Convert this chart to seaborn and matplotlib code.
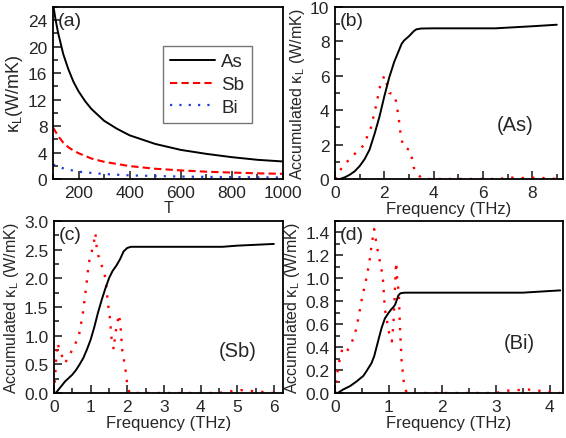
import numpy as np
import pandas as pd
import matplotlib
matplotlib.use('Agg')
import matplotlib.pyplot as plt
from matplotlib.ticker import MultipleLocator, FormatStrFormatter
import seaborn as sns

# (a) kappa_L vs T
T_as = [100, 110, 120, 140, 160, 180, 200, 225, 250, 300, 350, 400, 500, 600, 700, 800, 900, 1000]
k_as = [26.5, 24.1, 22.1, 18.9, 16.6, 14.7, 13.25, 11.8, 10.6, 8.8, 7.6, 6.6, 5.3, 4.4, 3.8, 3.3, 2.9, 2.65]
T_sb = [100, 120, 140, 160, 180, 200, 250, 300, 400, 500, 600, 700, 800, 900, 1000]
k_sb = [7.8, 6.5, 5.5, 4.8, 4.3, 3.9, 3.1, 2.6, 1.95, 1.55, 1.3, 1.1, 0.97, 0.86, 0.78]
T_bi = [100, 120, 150, 200, 300, 400, 500, 600, 700, 800, 900, 1000]
k_bi = [2.2, 1.85, 1.5, 1.1, 0.75, 0.55, 0.45, 0.37, 0.32, 0.28, 0.25, 0.22]

# (b) As accumulated / spectral
f_as_acc = [0.2, 0.4, 0.6, 0.8, 1.0, 1.2, 1.4, 1.6, 1.8, 2.0, 2.2, 2.4, 2.6, 2.7, 2.8, 3.0, 3.2, 3.3, 3.5, 4.0, 6.5, 7.0, 8.0, 9.0]
as_acc = [0.0, 0.1, 0.25, 0.45, 0.75, 1.15, 1.7, 2.6, 3.6, 4.8, 5.9, 6.8, 7.5, 7.85, 8.05, 8.3, 8.6, 8.7, 8.75, 8.76, 8.76, 8.8, 8.88, 8.97]
f_as_sp = [0.0, 0.2, 0.4, 0.8, 1.15, 1.45, 1.64, 1.83, 2.0, 2.13, 2.2, 2.37, 2.48, 2.58, 2.67, 2.78, 2.94, 3.06, 3.19, 3.39, 3.6, 6.7, 7.0, 7.5, 8.0, 8.5, 9.0]
as_sp = [0.0, 0.5, 0.87, 1.46, 1.94, 2.95, 4.1, 5.4, 6.0, 5.4, 5.0, 4.95, 4.5, 3.6, 2.5, 1.85, 1.75, 1.65, 0.68, 0.2, 0.0, 0.0, 0.1, 0.05, 0.08, 0.05, 0.0]

# (c) Sb
f_sb_acc = [0.05, 0.2, 0.3, 0.4, 0.5, 0.6, 0.7, 0.8, 0.9, 1.0, 1.1, 1.2, 1.3, 1.4, 1.5, 1.6, 1.7, 1.8, 1.9, 2.0, 2.1, 4.6, 5.0, 6.0]
sb_acc = [0.0, 0.12, 0.2, 0.26, 0.32, 0.4, 0.5, 0.61, 0.76, 0.93, 1.15, 1.4, 1.62, 1.82, 2.0, 2.13, 2.22, 2.33, 2.47, 2.53, 2.55, 2.55, 2.57, 2.6]
f_sb_sp = [0.0, 0.02, 0.06, 0.1, 0.15, 0.3, 0.43, 0.56, 0.68, 0.79, 0.88, 0.95, 1.08, 1.13, 1.17, 1.23, 1.29, 1.35,
           1.41, 1.47, 1.52, 1.57, 1.63, 1.67, 1.72, 1.77, 1.81, 1.86, 1.95, 2.0, 2.06, 4.5, 4.7, 5.1, 5.5, 6.0]
sb_sp = [0.0, 0.17, 0.6, 0.87, 0.75, 0.52, 0.67, 0.83, 1.0, 1.4, 1.86, 2.27, 2.59, 2.79, 2.5, 2.35, 2.24, 2.15,
         1.98, 1.57, 1.34, 0.96, 0.76, 1.02, 1.19, 1.37, 1.22, 0.76, 0.41, 0.15, 0.0, 0.0, 0.02, 0.05, 0.03, 0.0]

# (d) Bi
f_bi_acc = [0.05, 0.15, 0.28, 0.4, 0.53, 0.6, 0.68, 0.73, 0.78, 0.83, 0.87, 0.93, 1.0, 1.05, 1.09, 1.12, 1.15, 1.18, 1.22, 1.3, 3.5, 4.2]
bi_acc = [0.0, 0.03, 0.06, 0.1, 0.15, 0.2, 0.26, 0.32, 0.41, 0.5, 0.57, 0.65, 0.70, 0.73, 0.75, 0.77, 0.81, 0.85, 0.87, 0.875, 0.875, 0.895]
f_bi_sp = [0.0, 0.02, 0.06, 0.1, 0.14, 0.22, 0.31, 0.37, 0.43, 0.5, 0.58, 0.64, 0.68, 0.73, 0.78, 0.84, 0.89, 0.93,
           0.98, 1.01, 1.06, 1.09, 1.12, 1.14, 1.16, 1.19, 1.21, 1.24, 1.29, 1.34, 3.0, 3.2, 3.6, 4.0, 4.2]
bi_sp = [0.0, 0.09, 0.23, 0.32, 0.39, 0.36, 0.44, 0.51, 0.64, 0.82, 0.99, 1.14, 1.28, 1.43, 1.28, 1.14, 1.02, 0.73,
         0.6, 0.52, 0.45, 0.61, 0.93, 1.14, 0.99, 0.87, 0.58, 0.29, 0.06, 0.0, 0.0, 0.02, 0.03, 0.01, 0.0]

sns.set_style('ticks')
plt.rcParams['font.family'] = ['Liberation Sans', 'DejaVu Sans']
plt.rcParams['mathtext.fontset'] = 'custom'
plt.rcParams['mathtext.rm'] = 'Liberation Sans'
plt.rcParams['mathtext.it'] = 'Liberation Sans:italic'

W, H = 566, 439
fig = plt.figure(figsize=(W / 100, H / 100), dpi=100)


def box(l, t, r, b):
    return [l / W, 1 - b / H, (r - l) / W, (b - t) / H]


ax_a = fig.add_axes(box(53, 8, 283, 180))
ax_b = fig.add_axes(box(335, 8, 563, 180))
ax_c = fig.add_axes(box(54, 222, 283, 394))
ax_d = fig.add_axes(box(335, 222, 563, 394))

red_dot = (0, (1, 3.4))

sns.lineplot(x=T_as, y=k_as, ax=ax_a, color='black', lw=1.4, label='As')
sns.lineplot(x=T_sb, y=k_sb, ax=ax_a, color='red', lw=1.5, linestyle=(0, (3.5, 2)), label='Sb')
sns.lineplot(x=T_bi, y=k_bi, ax=ax_a, color='#1f3fd8', lw=1.6, linestyle=(0, (1, 3.2)), label='Bi')
ax_a.set_xlim(100, 1000)
ax_a.set_ylim(0, 26)
ax_a.xaxis.set_major_locator(MultipleLocator(200))
ax_a.xaxis.set_minor_locator(MultipleLocator(100))
ax_a.yaxis.set_major_locator(MultipleLocator(4))
ax_a.yaxis.set_minor_locator(MultipleLocator(2))
ax_a.set_xlabel('T', fontsize=11.5, labelpad=0)
ax_a.set_ylabel(r'$\mathregular{\kappa_L}$(W/mK)', fontsize=13, labelpad=2)
leg = ax_a.legend(loc='upper left', bbox_to_anchor=(0.478, 0.775), fontsize=13.5, frameon=True,
                  fancybox=False, edgecolor='#555555', handlelength=2.4, labelspacing=0.3,
                  borderpad=0.4, handletextpad=0.3, borderaxespad=0)
leg.get_frame().set_linewidth(1.0)

panels = [
    (ax_b, f_as_acc, as_acc, f_as_sp, as_sp, (0, 9.25), (0, 10), 2, 1, 2, 1, '(b)', '(As)', (0.71, 0.26)),
    (ax_c, f_sb_acc, sb_acc, f_sb_sp, sb_sp, (0, 6.25), (0, 3.0), 1, 0.5, 0.5, 0.25, '(c)', '(Sb)', (0.72, 0.19)),
    (ax_d, f_bi_acc, bi_acc, f_bi_sp, bi_sp, (0, 4.25), (0, 1.5), 1, 0.5, 0.2, 0.1, '(d)', '(Bi)', (0.74, 0.24)),
]
for ax, fa, ya, fs, ys, xl, yl, xmaj, xmin, ymaj, ymin, tag, name, pos in panels:
    sns.lineplot(x=fs, y=ys, ax=ax, color='red', lw=1.7, linestyle=red_dot)
    sns.lineplot(x=fa, y=ya, ax=ax, color='black', lw=1.4)
    ax.set_xlim(*xl)
    ax.set_ylim(*yl)
    ax.xaxis.set_major_locator(MultipleLocator(xmaj))
    ax.xaxis.set_minor_locator(MultipleLocator(xmin))
    ax.yaxis.set_major_locator(MultipleLocator(ymaj))
    ax.yaxis.set_minor_locator(MultipleLocator(ymin))
    ax.set_xlabel('Frequency (THz)', fontsize=12, labelpad=1)
    ax.set_ylabel(r'Accumulated $\mathregular{\kappa_L}$ (W/mK)', fontsize=11.5, labelpad=2)
    ax.text(pos[0], pos[1], name, transform=ax.transAxes, fontsize=14.5, ha='left', va='bottom')
    ax.text(0.02, 0.97, tag, transform=ax.transAxes, fontsize=14, ha='left', va='top')

ax_c.yaxis.set_major_formatter(FormatStrFormatter('%.1f'))
ax_d.yaxis.set_major_formatter(FormatStrFormatter('%.1f'))

ax_a.text(0.02, 0.97, '(a)', transform=ax_a.transAxes, fontsize=14, ha='left', va='top')

for ax in [ax_a, ax_b, ax_c, ax_d]:
    ax.tick_params(which='major', direction='in', length=6, width=1.2, labelsize=12.5, pad=4)
    ax.tick_params(which='minor', direction='in', length=3.5, width=1.2)
    for s in ax.spines.values():
        s.set_linewidth(1.3)
        s.set_color('black')

fig.savefig('out.png', dpi=100)
